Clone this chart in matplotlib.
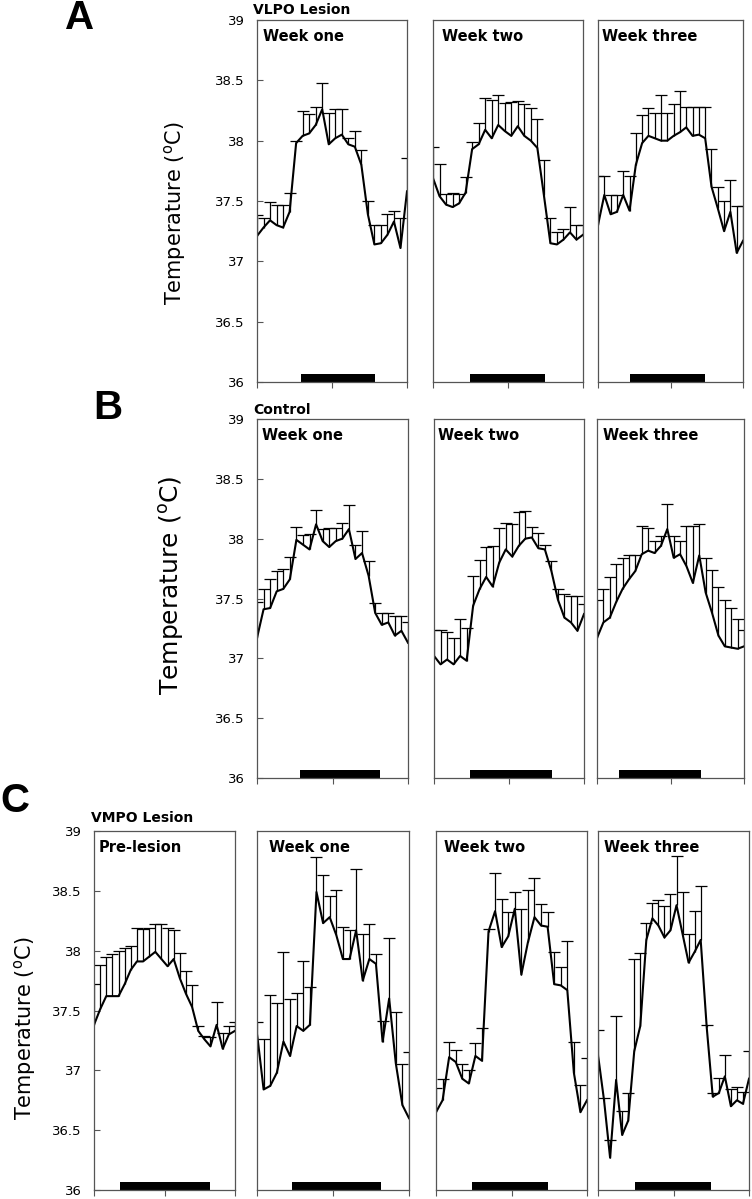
import matplotlib.pyplot as plt

# hourly samples (VMPO week three has 26)
hours = list(range(24))
hours26 = list(range(26))

# A: VLPO lesion
vlpo_wk1 = [37.21, 37.28, 37.34, 37.30, 37.28, 37.41, 37.98, 38.04, 38.06, 38.13, 38.26, 37.97,
            38.02, 38.05, 37.97, 37.95, 37.80, 37.39, 37.14, 37.15, 37.22, 37.33, 37.11, 37.58]
vlpo_wk1_err = [0.17, 0.08, 0.15, 0.17, 0.19, 0.16, 0.02, 0.21, 0.16, 0.15, 0.22, 0.26,
                0.24, 0.21, 0.05, 0.13, 0.12, 0.11, 0.16, 0.15, 0.17, 0.09, 0.25, 0.28]
vlpo_wk2 = [37.69, 37.54, 37.47, 37.45, 37.48, 37.57, 37.93, 37.97, 38.09, 38.02, 38.13, 38.08,
            38.04, 38.12, 38.04, 38.00, 37.94, 37.55, 37.15, 37.14, 37.18, 37.24, 37.18, 37.22]
vlpo_wk2_err = [0.26, 0.27, 0.09, 0.12, 0.08, 0.13, 0.06, 0.18, 0.26, 0.32, 0.25, 0.23,
                0.28, 0.21, 0.26, 0.27, 0.24, 0.29, 0.21, 0.10, 0.09, 0.21, 0.12, 0.08]
vlpo_wk3 = [37.30, 37.55, 37.39, 37.41, 37.55, 37.42, 37.80, 37.98, 38.04, 38.02, 38.00, 38.00,
            38.04, 38.07, 38.11, 38.04, 38.05, 38.02, 37.62, 37.44, 37.25, 37.41, 37.07, 37.17]
vlpo_wk3_err = [0.41, 0.16, 0.16, 0.14, 0.20, 0.29, 0.26, 0.23, 0.23, 0.21, 0.38, 0.23,
                0.26, 0.34, 0.17, 0.24, 0.23, 0.26, 0.31, 0.18, 0.25, 0.26, 0.39, 0.29]

# B: control
ctrl_wk1 = [37.17, 37.41, 37.42, 37.56, 37.58, 37.66, 37.99, 37.95, 37.91, 38.12, 37.98, 37.93,
            37.98, 38.00, 38.08, 37.83, 37.88, 37.69, 37.38, 37.28, 37.30, 37.19, 37.23, 37.13]
ctrl_wk1_err = [0.30, 0.17, 0.24, 0.17, 0.17, 0.19, 0.11, 0.08, 0.13, 0.12, 0.10, 0.16,
                0.11, 0.13, 0.20, 0.12, 0.18, 0.12, 0.08, 0.10, 0.08, 0.16, 0.12, 0.17]
ctrl_wk2 = [37.02, 36.95, 36.99, 36.95, 37.02, 36.98, 37.44, 37.58, 37.68, 37.60, 37.80, 37.91,
            37.85, 37.94, 38.00, 38.01, 37.92, 37.91, 37.73, 37.49, 37.34, 37.30, 37.23, 37.37]
ctrl_wk2_err = [0.22, 0.29, 0.23, 0.22, 0.31, 0.27, 0.25, 0.24, 0.25, 0.34, 0.29, 0.22,
                0.27, 0.28, 0.23, 0.09, 0.13, 0.04, 0.08, 0.09, 0.20, 0.22, 0.29, 0.08]
ctrl_wk3 = [37.17, 37.30, 37.34, 37.47, 37.58, 37.66, 37.73, 37.87, 37.90, 37.88, 37.94, 38.08,
            37.84, 37.87, 37.77, 37.63, 37.86, 37.55, 37.38, 37.19, 37.10, 37.09, 37.08, 37.10]
ctrl_wk3_err = [0.32, 0.28, 0.34, 0.32, 0.26, 0.20, 0.13, 0.24, 0.19, 0.10, 0.08, 0.21,
                0.18, 0.11, 0.34, 0.48, 0.26, 0.29, 0.36, 0.41, 0.39, 0.33, 0.25, 0.14]

# C: VMPO lesion
vmpo_pre = [37.38, 37.51, 37.62, 37.62, 37.62, 37.72, 37.84, 37.91, 37.91, 37.95, 37.99, 37.93,
            37.87, 37.93, 37.77, 37.64, 37.53, 37.33, 37.26, 37.20, 37.38, 37.18, 37.30, 37.33]
vmpo_pre_err = [0.34, 0.37, 0.33, 0.35, 0.38, 0.30, 0.20, 0.28, 0.27, 0.24, 0.23, 0.29,
                0.32, 0.24, 0.21, 0.19, 0.18, 0.04, 0.03, 0.08, 0.19, 0.13, 0.07, 0.07]
vmpo_wk1 = [37.31, 36.84, 36.87, 36.98, 37.24, 37.12, 37.37, 37.33, 37.38, 38.49, 38.23, 38.28,
            38.13, 37.93, 37.93, 38.17, 37.75, 37.93, 37.89, 37.24, 37.60, 37.06, 36.71, 36.60]
vmpo_wk1_err = [0.09, 0.42, 0.76, 0.58, 0.75, 0.48, 0.28, 0.58, 0.32, 0.29, 0.40, 0.18,
                0.38, 0.27, 0.24, 0.51, 0.39, 0.29, 0.08, 0.17, 0.51, 0.43, 0.34, 0.55]
vmpo_wk2 = [36.65, 36.75, 37.11, 37.07, 36.93, 36.89, 37.12, 37.08, 38.16, 38.33, 38.03, 38.12,
            38.35, 37.80, 38.07, 38.28, 38.21, 38.20, 37.72, 37.71, 37.67, 36.98, 36.65, 36.75]
vmpo_wk2_err = [0.20, 0.18, 0.13, 0.10, 0.12, 0.11, 0.11, 0.27, 0.02, 0.32, 0.40, 0.20,
                0.14, 0.55, 0.44, 0.33, 0.18, 0.12, 0.27, 0.15, 0.41, 0.26, 0.23, 0.35]
vmpo_wk3 = [37.13, 36.75, 36.27, 36.92, 36.46, 36.58, 37.16, 37.37, 38.09, 38.27, 38.21, 38.11, 38.17,
            38.38, 38.14, 37.90, 37.99, 38.09, 37.36, 36.78, 36.81, 36.95, 36.70, 36.75, 36.72, 36.93]
vmpo_wk3_err = [0.21, 0.02, 0.15, 0.53, 0.20, 0.23, 0.77, 0.61, 0.14, 0.13, 0.21, 0.26, 0.30,
                0.41, 0.35, 0.24, 0.34, 0.45, 0.02, 0.03, 0.13, 0.18, 0.14, 0.11, 0.10, 0.23]

# lights-off period (hours) for each panel
dark_a = [(6.7, 18.1), (5.7, 17.1), (5.0, 16.9)]
dark_b = [(6.6, 18.7), (5.5, 18.1), (3.5, 16.3)]
dark_c = [(4.3, 19.0), (5.3, 18.8), (5.5, 17.0), (6.1, 18.7)]

yticks = [36, 36.5, 37, 37.5, 38, 38.5, 39]
ytick_labels = ['36', '36.5', '37', '37.5', '38', '38.5', '39']

W, H = 752, 1199
fig = plt.figure(figsize=(W / 100, H / 100), dpi=100)


def rect(left, top, right, bottom):
    return [left / W, 1 - bottom / H, (right - left) / W, (bottom - top) / H]


def panel(box, x, mean, err, dark, label, label_x, first=False):
    ax = fig.add_axes(box)
    top = [m + e for m, e in zip(mean, err)]
    ax.vlines(x, mean, top, color='black', lw=0.9)
    ax.plot(x, top, ls='none', marker='_', ms=8, mew=0.9, color='black')
    ax.plot(x, mean, color='black', lw=1.5)
    ax.fill_between(dark, 36, 36.07, color='black', lw=0)
    ax.set_xlim(x[0], x[-1])
    ax.set_ylim(36, 39)
    ax.set_xticks([x[0], (x[0] + x[-1]) / 2, x[-1]])
    ax.set_xticklabels([])
    ax.tick_params(axis='x', direction='out', length=4, color='#555555')
    if first:
        ax.set_yticks(yticks)
        ax.set_yticklabels(ytick_labels, fontsize=9.5)
        ax.tick_params(axis='y', direction='in', length=4, pad=9, color='#555555')
    else:
        ax.set_yticks([])
    for s in ax.spines.values():
        s.set_color('#555555')
        s.set_linewidth(0.9)
    ax.text(label_x, 0.975, label, transform=ax.transAxes, ha='left', va='top',
            fontsize=10.5, fontweight='bold')
    return ax


# row A
panel(rect(257, 20, 407, 382), hours, vlpo_wk1, vlpo_wk1_err, dark_a[0], 'Week one', 0.04, True)
panel(rect(433, 20, 583, 382), hours, vlpo_wk2, vlpo_wk2_err, dark_a[1], 'Week two', 0.06)
panel(rect(598, 20, 743, 382), hours, vlpo_wk3, vlpo_wk3_err, dark_a[2], 'Week three', 0.03)
# row B
panel(rect(257, 419, 408, 778), hours, ctrl_wk1, ctrl_wk1_err, dark_b[0], 'Week one', 0.03, True)
panel(rect(434, 419, 584, 778), hours, ctrl_wk2, ctrl_wk2_err, dark_b[1], 'Week two', 0.03)
panel(rect(597, 419, 744, 778), hours, ctrl_wk3, ctrl_wk3_err, dark_b[2], 'Week three', 0.04)
# row C
panel(rect(94, 831, 235, 1190), hours, vmpo_pre, vmpo_pre_err, dark_c[0], 'Pre-lesion', 0.03, True)
panel(rect(257, 831, 409, 1190), hours, vmpo_wk1, vmpo_wk1_err, dark_c[1], 'Week one', 0.08)
panel(rect(436, 831, 587, 1190), hours, vmpo_wk2, vmpo_wk2_err, dark_c[2], 'Week two', 0.05)
panel(rect(598, 831, 749, 1190), hours26, vmpo_wk3, vmpo_wk3_err, dark_c[3], 'Week three', 0.04)

ylab = r'Temperature ($\mathregular{^o}$C)'
fig.text(175 / W, 1 - 213 / H, ylab, rotation=90, ha='center', va='center', fontsize=15)
fig.text(172 / W, 1 - 585 / H, ylab, rotation=90, ha='center', va='center', fontsize=18)
fig.text(25 / W, 1 - 1028 / H, ylab, rotation=90, ha='center', va='center', fontsize=15)

fig.text(253 / W, 1 - 10 / H, 'VLPO Lesion', ha='left', va='center', fontsize=10, fontweight='bold')
fig.text(253 / W, 1 - 410 / H, 'Control', ha='left', va='center', fontsize=10, fontweight='bold')
fig.text(91 / W, 1 - 818 / H, 'VMPO Lesion', ha='left', va='center', fontsize=10, fontweight='bold')

for letter, px, py in [('A', 80, 18), ('B', 108, 408), ('C', 15, 801)]:
    fig.text(px / W, 1 - py / H, letter, ha='center', va='center', fontsize=29,
             fontweight='bold', family='Liberation Sans')

fig.savefig('out.png', dpi=100)
